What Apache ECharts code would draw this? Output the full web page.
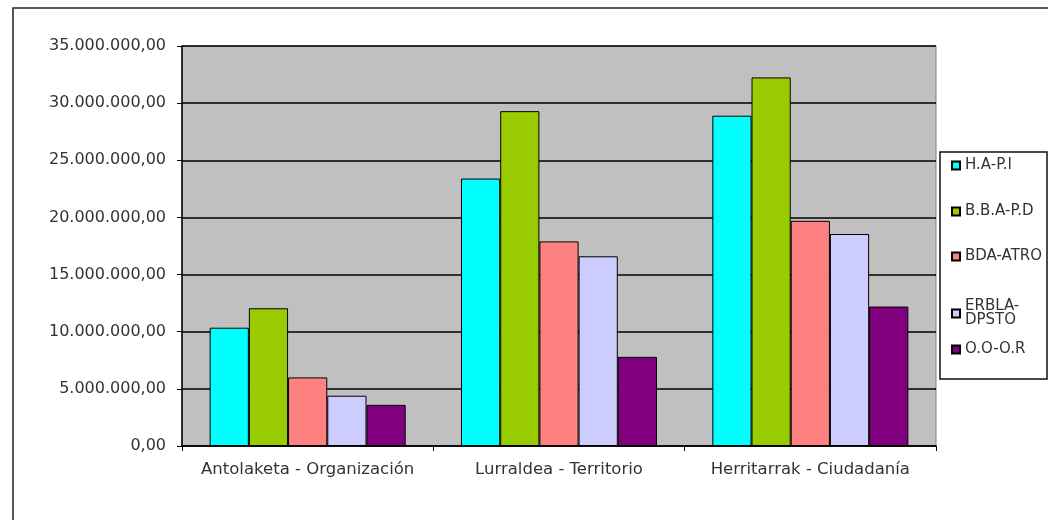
<!DOCTYPE html>
<html>
<head>
<meta charset="utf-8">
<script src="https://cdn.jsdelivr.net/npm/echarts@6/dist/echarts.min.js"></script>
<style>
    html, body { margin: 0; padding: 0; background: #ffffff; }
    #chart { width: 1048px; height: 520px; }
</style>
</head>
<body>
<div id="chart"></div>
<script>
// categorias del eje X
const categories = ['Antolaketa - Organización', 'Lurraldea - Territorio', 'Herritarrak - Ciudadanía'];

// valores por serie (euros)
const hapi = [10350000, 23400000, 28900000];
const bbapd = [12050000, 29300000, 32250000];
const bdaAtro = [6000000, 17900000, 19700000];
const erblaDpsto = [4400000, 16600000, 18550000];
const oooR = [3600000, 7800000, 12200000];

const seriesNames = ['H.A-P.I', 'B.B.A-P.D', 'BDA-ATRO', 'ERBLA-DPSTO', 'O.O-O.R'];
const seriesData = [hapi, bbapd, bdaAtro, erblaDpsto, oooR];
const colors = ['#00ffff', '#99cc00', '#ff8080', '#ccccff', '#800080'];

const font = 'DejaVu Sans';

function fmt(v) {
    // 35000000 -> 35.000.000,00
    let s = Math.round(v).toString();
    s = s.replace(/\B(?=(\d{3})+(?!\d))/g, '.');
    return s + ',00';
}

const chart = echarts.init(document.getElementById('chart'));

// una leyenda por serie, para colocar cada entrada como en el original
const legendTops = [158, 204, 249, 299, 342];
const legends = seriesNames.map(function (name, i) {
    return {
        data: [name],
        left: 951,
        top: legendTops[i],
        orient: 'vertical',
        icon: 'rect',
        itemWidth: 8,
        itemHeight: 8,
        itemGap: 0,
        padding: 0,
        selectedMode: false,
        textStyle: {
            color: '#333',
            fontFamily: font,
            fontSize: 15,
            lineHeight: 14
        },
        formatter: function (n) {
            return n === 'ERBLA-DPSTO' ? 'ERBLA-\nDPSTO' : n;
        }
    };
});

const option = {
    animation: false,
    backgroundColor: '#ffffff',
    color: colors,
    graphic: [
        {
            // marco exterior
            type: 'polyline',
            z: 0,
            shape: { points: [[13, 600], [13, 8], [1060, 8]] },
            style: { stroke: '#222', lineWidth: 1.5, fill: null }
        },
        {
            // caja de la leyenda
            type: 'rect',
            z: 0,
            shape: { x: 940, y: 152, width: 107, height: 227 },
            style: { stroke: '#111', lineWidth: 1.5, fill: '#ffffff' }
        }
    ],
    legend: legends,
    grid: {
        left: 182,
        right: 112,
        top: 46,
        bottom: 74,
        show: true,
        backgroundColor: '#c0c0c0',
        borderColor: '#808080',
        borderWidth: 1
    },
    xAxis: {
        type: 'category',
        data: categories,
        axisLine: { lineStyle: { color: '#000', width: 1.5 } },
        axisTick: { show: true, length: 5, lineStyle: { color: '#000' } },
        axisLabel: {
            color: '#333',
            fontFamily: font,
            fontSize: 16.5,
            margin: 15,
            interval: 0
        }
    },
    yAxis: {
        type: 'value',
        min: 0,
        max: 35000000,
        interval: 5000000,
        axisLine: { show: true, lineStyle: { color: '#000', width: 1.5 } },
        axisTick: { show: true, length: 5, lineStyle: { color: '#000' } },
        splitLine: { show: true, lineStyle: { color: '#000', width: 1.5 } },
        axisLabel: {
            color: '#333',
            fontFamily: font,
            fontSize: 16,
            margin: 16,
            formatter: fmt
        }
    },
    series: seriesNames.map(function (name, i) {
        return {
            name: name,
            type: 'bar',
            data: seriesData[i],
            barGap: '0%',
            barCategoryGap: '22%',
            itemStyle: {
                color: colors[i],
                borderColor: '#000',
                borderWidth: 1
            }
        };
    })
};

chart.setOption(option);
</script>
</body>
</html>
